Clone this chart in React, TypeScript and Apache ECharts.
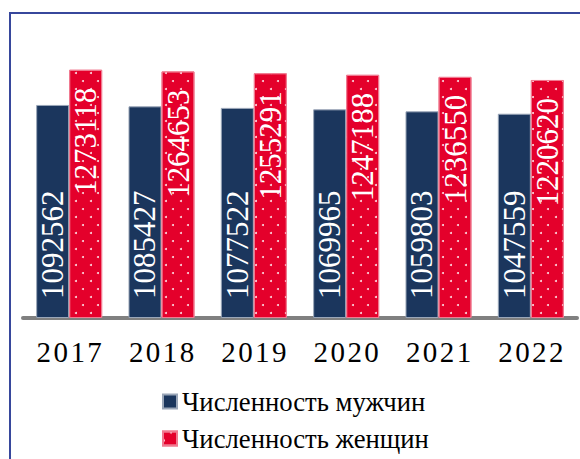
import React, { useEffect, useRef } from "react";
import * as echarts from "echarts";

const years = ["2017", "2018", "2019", "2020", "2021", "2022"];
const men = [1092562, 1085427, 1077522, 1069965, 1059803, 1047559];
const women = [1273118, 1264653, 1255291, 1247188, 1236550, 1220620];
const seriesNames = ["Численность мужчин", "Численность женщин"];

const SERIF = "Liberation Serif";

export default function App() {
  const ref = useRef<HTMLDivElement>(null);
  useEffect(() => {
    if (!ref.current) return;
    const chart = echarts.init(ref.current, null, { renderer: "svg" });
    const legendBase = {
      orient: "horizontal",
      left: 157,
      itemWidth: 14,
      itemHeight: 14,
      icon: "rect",
      textStyle: { fontFamily: SERIF, fontSize: 26.7, color: "#000" },
    };
    chart.setOption({
      animation: false,
      backgroundColor: "#ffffff",
      graphic: [
        {
          type: "rect",
          shape: { x: 10, y: 13, width: 620, height: 520 },
          style: { fill: "none", stroke: "#37479c", lineWidth: 2 },
          silent: true,
          z: 0,
        },
      ],
      grid: { left: 23, right: 3, top: 45, bottom: 141, containLabel: false },
      legend: [
        { ...legendBase, top: 383, data: [seriesNames[0]] },
        { ...legendBase, top: 420, data: [seriesNames[1]] },
      ],
      xAxis: {
        type: "category",
        data: years,
        axisLine: { show: true, lineStyle: { color: "#808080", width: 4 } },
        axisTick: { show: false },
        axisLabel: {
          fontFamily: SERIF,
          fontSize: 29,
          color: "#000",
          margin: 19,
          formatter: (v: string) => v.split("").join("\u200A"),
        },
      },
      yAxis: {
        type: "value",
        min: 0,
        max: 1400000,
        show: false,
        splitLine: { show: false },
      },
      series: [
        {
          name: seriesNames[0],
          type: "bar",
          data: men,
          barGap: "0%",
          barCategoryGap: "28.5%",
          itemStyle: { color: "#1b365d", borderColor: "#9aa6b8", borderWidth: 1 },
          label: {
            show: true,
            position: "insideBottom",
            distance: 19,
            rotate: 90,
            align: "left",
            verticalAlign: "middle",
            color: "#ffffff",
            fontFamily: SERIF,
            fontSize: 31,
          },
        },
        {
          name: seriesNames[1],
          type: "bar",
          data: women,
          itemStyle: {
            color: "#e4002b",
            borderColor: "#f07a90",
            borderWidth: 1,
            decal: {
              symbol: "circle",
              symbolSize: 1,
              color: "rgba(255,255,255,0.85)",
              dashArrayX: [
                [2, 13],
                [0, 7, 2, 6],
              ],
              dashArrayY: [2, 5.5],
              rotation: 0,
            },
          },
          label: {
            show: true,
            position: "insideTop",
            distance: 18,
            rotate: 90,
            align: "right",
            verticalAlign: "middle",
            color: "#ffffff",
            fontFamily: SERIF,
            fontSize: 31,
          },
        },
      ],
    });
    return () => chart.dispose();
  }, []);
  return (
    <div
      ref={ref}
      style={{ position: "fixed", left: 0, top: 0, width: 580, height: 459 }}
    />
  );
}
